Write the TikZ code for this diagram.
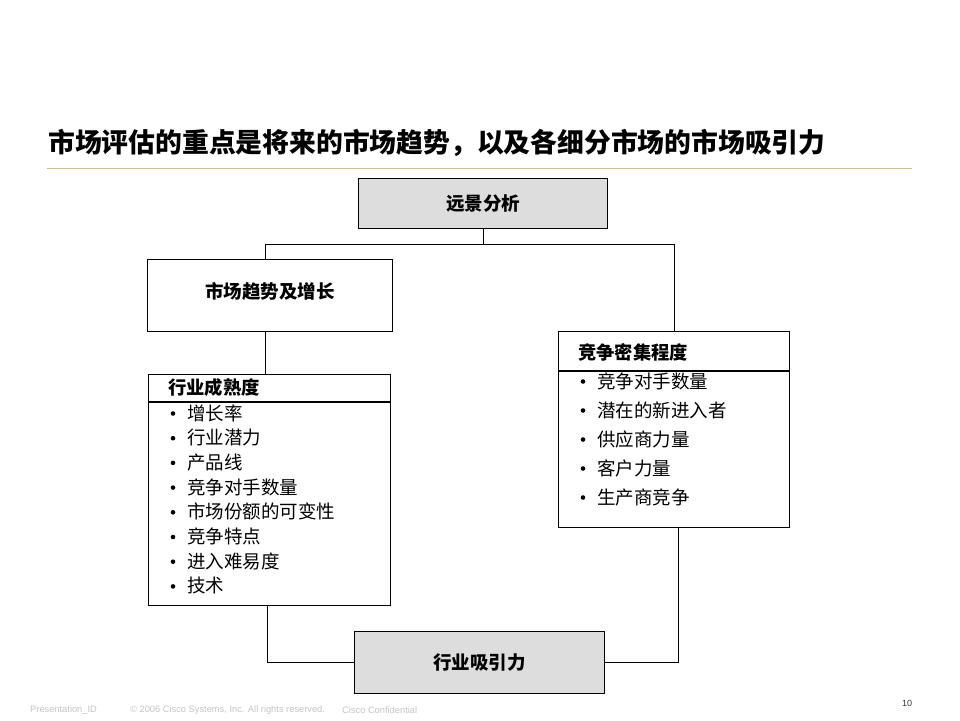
\documentclass[tikz,border=0pt]{standalone}
\usepackage{fontspec}
\setmainfont{Noto Sans CJK SC}
\newfontfamily\footfont{Liberation Sans}
\definecolor{boxgray}{HTML}{DDDDDD}
\definecolor{rulegold}{HTML}{D6B98C}
\definecolor{footgray}{HTML}{C4C4C4}
\begin{document}
\begin{tikzpicture}[x=1pt,y=-1pt,
  box/.style={draw=black, line width=1.1pt, inner sep=0pt, anchor=north west, align=center},
  graybox/.style={box, fill=boxgray},
  conn/.style={draw=black, line width=1.1pt},
  hdr/.style={anchor=west, inner sep=0pt, font=\bfseries\fontsize{18.3}{20}\selectfont},
  boxtxt/.style={inner sep=0pt, font=\bfseries\fontsize{18.5}{20}\selectfont},
  bul/.style={circle, fill=black, inner sep=0pt, minimum size=4.6pt},
  itm/.style={anchor=west, inner sep=0pt, font=\fontsize{18.5}{20}\selectfont},
  foot/.style={anchor=west, inner sep=0pt, text=footgray, font=\footfont\fontsize{9.3}{10}\selectfont}
]
\useasboundingbox (0,0) rectangle (960,720);

% title
\node[anchor=west, inner sep=0pt, font=\bfseries\fontsize{26.8}{30}\selectfont] (title) at (48,143)
  {市场评估的重点是将来的市场趋势，以及各细分市场的市场吸引力};
\draw[rulegold, line width=1pt] (47,168) coordinate (r1) -- (912,168) coordinate (r2);

% boxes
\node[graybox, minimum width=249pt, minimum height=50pt] (vision) at (358,178) {};
\node[boxtxt] (visiont) at (vision.center) {远景分析};

\node[box, minimum width=245pt, minimum height=72pt] (trend) at (147,259) {};
\node[boxtxt] (trendt) at ([yshift=4pt]trend.center) {市场趋势及增长};

\node[box, minimum width=242pt, minimum height=231pt] (mature) at (148,374) {};
\draw[conn] ([yshift=-28pt]mature.north west) -- ([yshift=-28pt]mature.north east);
\node[hdr] (matureh) at (168,388) {行业成熟度};

\node[box, minimum width=231pt, minimum height=196pt] (comp) at (558,331) {};
\draw[conn] ([yshift=-40pt]comp.north west) -- ([yshift=-40pt]comp.north east);
\node[hdr] (comph) at (578,352) {竞争密集程度};

\node[graybox, minimum width=250pt, minimum height=62pt] (attract) at (354,631) {};
\node[boxtxt] (attractt) at (attract.center) {行业吸引力};

% items left
\foreach \t [count=\i] in {增长率,行业潜力,产品线,竞争对手数量,市场份额的可变性,竞争特点,进入难易度,技术}{
  \node[bul] (lb\i) at (173,{413.5+24.7*(\i-1)}) {};
  \node[itm] (lt\i) at (187,{413+24.7*(\i-1)}) {\t};
}
% items right
\foreach \t [count=\i] in {竞争对手数量,潜在的新进入者,供应商力量,客户力量,生产商竞争}{
  \node[bul] (rb\i) at (583,{381.5+29*(\i-1)}) {};
  \node[itm] (rt\i) at (597,{381+29*(\i-1)}) {\t};
}

% connectors
\coordinate (j) at ([yshift=-15pt]vision.south);
\draw[conn] (vision.south) -- (j);
\draw[conn] ([xshift=-5pt]trend.north) |- (j);
\draw[conn] (j) -| (comp.north);
\draw[conn] ([xshift=-5pt]trend.south) -- ([xshift=-5pt]trend.south |- mature.north);
\draw[conn] ([xshift=-2pt]mature.south) |- (attract.west);
\draw[conn] ([xshift=4pt]comp.south) |- (attract.east);

% footer
\node[foot] (f1) at (30,710) {Presentation\_ID};
\node[foot] (f2) at (130,710) {© 2006 Cisco Systems, Inc. All rights reserved.};
\node[foot] (f3) at (342,710) {Cisco Confidential};
\node[anchor=center, inner sep=0pt, text=black!80, font=\footfont\fontsize{9}{10}\selectfont] (pg) at (907,703) {10};
\end{tikzpicture}
\end{document}
